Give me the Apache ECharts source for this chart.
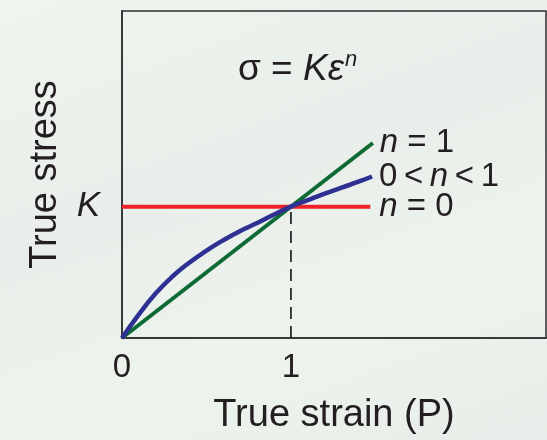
<!DOCTYPE html>
<html>
<head>
<meta charset="utf-8">
<script src="https://cdn.jsdelivr.net/npm/echarts@6/dist/echarts.min.js"></script>
<style>
  html, body { margin: 0; padding: 0; }
  body { background: linear-gradient(160deg, #eef4ee 0%, #e9eeea 40%, #edf3ed 70%, #e8ede9 100%); }
  #chart { width: 547px; height: 440px; }
</style>
</head>
<body>
<div id="chart"></div>
<script>
// Power-law hardening: sigma = K * eps^n, with K = 1 and strain up to ~1.5
const xTicks = [0, 1];
const xTickLabels = ['0', '1'];
const yTicks = [1];
const yTickLabels = ['K'];

const strainN0 = [0, 1.47];
const stressN0 = [1, 1];

const strainN1 = [0, 1.485];
const stressN1 = [0, 1.485];

const strainMid = [0, 0.1, 0.2, 0.3, 0.4, 0.5, 0.6, 0.7, 0.8, 0.9, 1.0, 1.1, 1.2, 1.3, 1.4, 1.48];
const stressMid = [0, 0.18, 0.34, 0.47, 0.575, 0.665, 0.745, 0.815, 0.875, 0.94, 1.0, 1.05, 1.10, 1.145, 1.19, 1.23];

const guideX = [1, 1];
const guideY = [0, 1];

const zip = (xs, ys) => xs.map((x, i) => [x, ys[i]]);

const FONT = '"Liberation Sans", Arial, Helvetica, sans-serif';
const INK = '#231f20';

const chart = echarts.init(document.getElementById('chart'), null, { renderer: 'canvas' });

const italicRich = {
  i: { fontStyle: 'italic', fontSize: 33, fontFamily: FONT, color: INK },
  r: { fontSize: 33, fontFamily: FONT, color: INK }
};

chart.setOption({
  backgroundColor: 'transparent',
  animation: false,
  grid: {
    left: 122, top: 11, right: 1, bottom: 99,
    show: true, borderColor: '#2e2e2e', borderWidth: 1.5, backgroundColor: 'transparent'
  },
  xAxis: {
    type: 'value', min: 0, max: 2.51,
    name: 'True strain (P)', nameLocation: 'middle', nameGap: 59,
    nameTextStyle: { fontSize: 38, fontFamily: FONT, color: INK },
    axisLine: { show: true, lineStyle: { color: '#2e2e2e', width: 1.5 } },
    axisTick: { show: false },
    splitLine: { show: false },
    axisLabel: {
      customValues: xTicks,
      formatter: v => xTickLabels[xTicks.indexOf(v)] ?? '',
      fontSize: 33, fontFamily: FONT, color: INK, margin: 13
    }
  },
  yAxis: {
    type: 'value', min: 0, max: 2.49,
    name: 'True stress', nameLocation: 'middle', nameGap: 57, nameRotate: 90,
    nameTextStyle: { fontSize: 38, fontFamily: FONT, color: INK },
    axisLine: { show: true, lineStyle: { color: '#2e2e2e', width: 1.5 } },
    axisTick: { show: false },
    splitLine: { show: false },
    axisLabel: {
      customValues: yTicks,
      formatter: v => yTickLabels[yTicks.indexOf(v)] ?? '',
      fontSize: 35, fontStyle: 'italic', fontFamily: FONT, color: INK, margin: 22
    }
  },
  series: [
    {
      type: 'line', data: zip(guideX, guideY), showSymbol: false, silent: true,
      lineStyle: { color: '#2a2a2a', width: 1.8, type: [12, 7] }, z: 1
    },
    {
      type: 'line', data: zip(strainN0, stressN0), showSymbol: false,
      lineStyle: { color: '#ee2428', width: 4 }, z: 2,
      endLabel: { show: true, distance: 9, formatter: '{i|n}{r| = 0}', rich: italicRich }
    },
    {
      type: 'line', data: zip(strainN1, stressN1), showSymbol: false,
      lineStyle: { color: '#0f6b35', width: 4 }, z: 3,
      endLabel: { show: true, distance: 7, formatter: '{i|n}{r| = 1}', rich: italicRich }
    },
    {
      type: 'line', data: zip(strainMid, stressMid), showSymbol: false,
      smooth: 0.5,
      lineStyle: { color: '#2e3192', width: 4.5 }, z: 4,
      endLabel: { show: true, distance: 7, formatter: '{r|0\u2009<\u2009}{i|n}{r|\u2009<\u20091}', rich: italicRich }
    }
  ],
  graphic: [
    {
      type: 'text', left: 238, top: 51,
      style: {
        text: '{r|σ = }{i|Kε}',
        rich: {
          r: { fontSize: 37, fontFamily: FONT, fill: INK },
          i: { fontSize: 37, fontStyle: 'italic', fontFamily: FONT, fill: INK }
        }
      }
    },
    {
      type: 'text', left: 345, top: 49,
      style: { text: 'n', fontSize: 22, fontStyle: 'italic', fontFamily: FONT, fill: INK }
    }
  ]
});
</script>
</body>
</html>
